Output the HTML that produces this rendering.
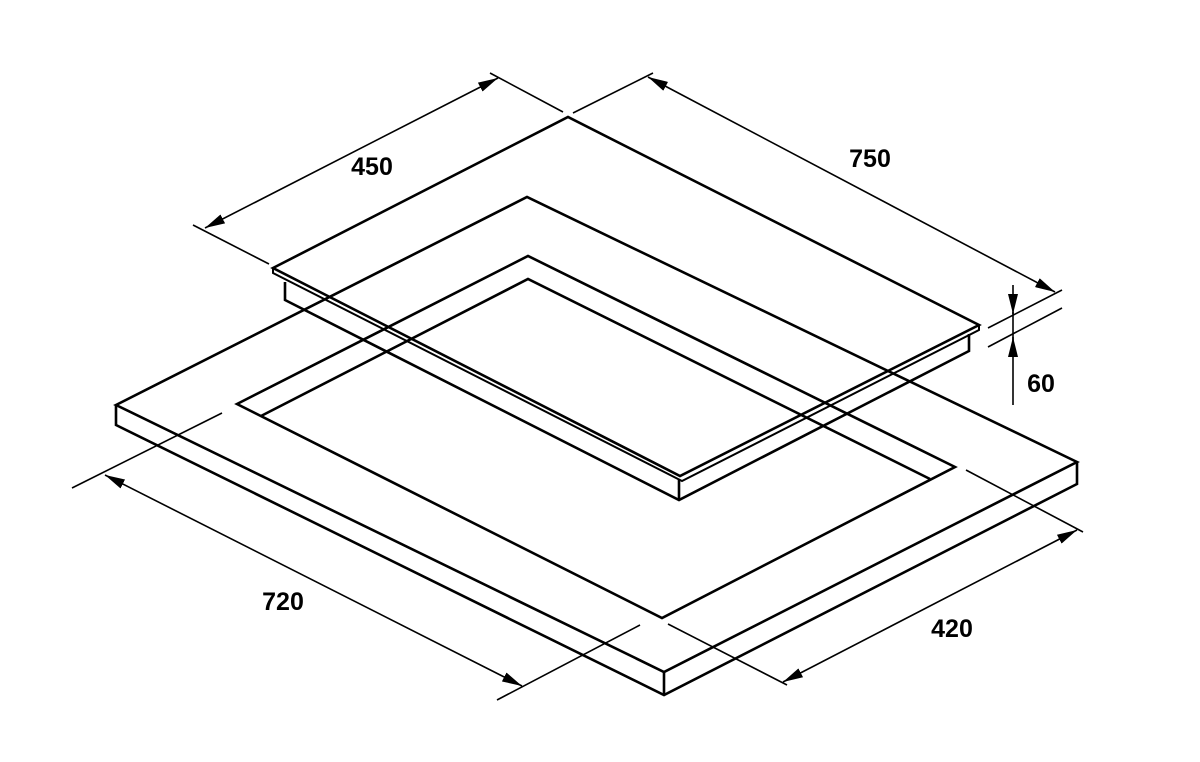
<!DOCTYPE html>
<html><head><meta charset="utf-8"><style>
html,body{margin:0;padding:0;background:#fff;}
svg{display:block;}
text{font-family:"Liberation Sans",sans-serif;font-weight:bold;font-size:25px;fill:#000;}
</style></head><body>
<svg width="1200" height="762" viewBox="0 0 1200 762" xmlns="http://www.w3.org/2000/svg">
<defs>
<marker id="a" viewBox="0 0 20 10" refX="20" refY="5" markerWidth="20" markerHeight="10" markerUnits="userSpaceOnUse" orient="auto-start-reverse">
<path d="M0,0 L20,5 L0,10 Z" fill="#000"/>
</marker>
</defs>
<g fill="none" stroke="#000" stroke-width="2.6" stroke-linejoin="miter">
<!-- slab -->
<polygon points="116,405 527,197 1077,462 664,672"/>
<polyline points="116,405 116,425 664,695 1077,484 1077,462"/>
<line x1="664" y1="672" x2="664" y2="695"/>
<!-- cutout -->
<polygon points="237,404 528,256 955,467 662,618"/>
<polyline points="261,416 528,279 930,479"/>
<!-- hob body -->
<polyline points="285,282 285,300 679,500 969,351 969,334"/>
<line x1="679" y1="480" x2="679" y2="500"/>
<!-- hob glass -->
<polygon points="273,268 568,117 979,325 680,476"/>
<polyline points="273,268 273,273 682,481 979,330 979,325" stroke-width="2"/>
</g>
<g fill="none" stroke="#000" stroke-width="1.6">
<!-- 450 -->
<line x1="193" y1="225" x2="269" y2="264"/>
<line x1="490" y1="73" x2="563" y2="112"/>
<line x1="205" y1="228" x2="498" y2="78" marker-start="url(#a)" marker-end="url(#a)"/>
<!-- 750 -->
<line x1="573" y1="113" x2="653" y2="73"/>
<line x1="988" y1="328" x2="1062" y2="290"/>
<line x1="648" y1="77" x2="1055" y2="292" marker-start="url(#a)" marker-end="url(#a)"/>
<!-- 60 -->
<line x1="988" y1="347" x2="1062" y2="308"/>
<line x1="1013" y1="285" x2="1013" y2="314" marker-end="url(#a)"/>
<line x1="1013" y1="405" x2="1013" y2="337" marker-end="url(#a)"/>
<line x1="1013" y1="312" x2="1013" y2="340"/>
<!-- 720 -->
<line x1="72" y1="488" x2="222" y2="413"/>
<line x1="497" y1="700" x2="640" y2="625"/>
<line x1="105" y1="475" x2="522" y2="686" marker-start="url(#a)" marker-end="url(#a)"/>
<!-- 420 -->
<line x1="668" y1="624" x2="787" y2="685"/>
<line x1="966" y1="470" x2="1083" y2="532"/>
<line x1="783" y1="682" x2="1077" y2="530" marker-start="url(#a)" marker-end="url(#a)"/>
</g>
<text x="372" y="175" text-anchor="middle">450</text>
<text x="870" y="167" text-anchor="middle">750</text>
<text x="1041" y="392" text-anchor="middle">60</text>
<text x="283" y="610" text-anchor="middle">720</text>
<text x="952" y="637" text-anchor="middle">420</text>
</svg>
</body></html>
